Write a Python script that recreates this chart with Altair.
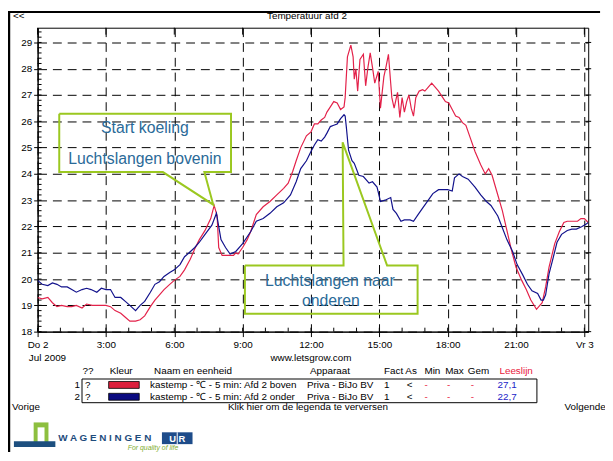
import altair as alt
import pandas as pd

# ---------------- data ----------------
red_h = [0.0, 0.2, 0.45, 0.65, 0.85, 1.05, 1.3, 1.5, 1.7, 1.95, 2.15, 2.4, 2.7, 3.0, 3.2, 3.4, 3.65, 3.85,
         4.05, 4.3, 4.5, 4.7, 4.95, 5.15, 5.35, 5.55, 5.8, 6.0, 6.25, 6.45, 6.7, 6.9, 7.1, 7.35, 7.6, 7.75,
         7.88, 7.95, 8.1, 8.4, 8.6, 8.7, 8.8, 9.0, 9.2, 9.35, 9.6, 9.9, 10.2, 10.5, 10.8, 11.0, 11.2, 11.35,
         11.55, 11.8, 12.0, 12.15, 12.3, 12.45, 12.6, 12.7, 12.85, 13.0, 13.15, 13.3, 13.45, 13.5, 13.6,
         13.75, 13.85, 13.9, 13.97, 14.05, 14.15, 14.3, 14.4, 14.5, 14.6, 14.7, 14.8, 14.95, 15.05, 15.2,
         15.3, 15.4, 15.5, 15.55, 15.65, 15.8, 15.9, 16.0, 16.1, 16.2, 16.3, 16.4, 16.5, 16.6, 16.75, 16.9,
         17.0, 17.15, 17.3, 17.45, 17.6, 17.75, 17.9, 18.05, 18.2, 18.35, 18.5, 18.65, 18.8, 19.0, 19.2,
         19.45, 19.65, 19.8, 19.95, 20.15, 20.4, 20.6, 20.8, 21.0, 21.25, 21.45, 21.65, 21.9, 22.0, 22.15,
         22.3, 22.45, 22.7, 22.9, 23.1, 23.25, 23.45, 23.7, 23.85, 24.0, 24.17]
red_t = [19.3, 19.25, 19.3, 19.1, 18.95, 19.0, 18.95, 18.95, 19.0, 18.9, 19.05, 19.0, 19.0, 19.0, 18.95,
         18.8, 18.7, 18.55, 18.4, 18.4, 18.45, 18.6, 18.95, 19.2, 19.4, 19.6, 19.8, 19.95, 20.1, 20.35,
         20.75, 21.15, 21.5, 21.85, 22.3, 22.8, 22.4, 21.2, 20.9, 20.9, 20.9, 21.0, 20.95, 21.2, 21.5, 21.8,
         22.45, 22.75, 22.95, 23.2, 23.45, 23.65, 24.1, 24.5, 25.0, 25.45, 25.6, 25.9, 25.9, 26.05, 26.15,
         26.35, 26.55, 26.75, 26.7, 26.45, 26.55, 26.9, 28.45, 28.9, 28.45, 27.6, 28.0, 27.15, 28.35, 28.55,
         27.35, 28.05, 28.6, 28.05, 27.45, 27.9, 26.5, 27.7, 28.1, 28.55, 27.45, 26.9, 26.5, 27.1, 26.15,
         26.9, 26.35, 26.75, 27.0, 26.5, 26.2, 26.9, 27.15, 27.2, 27.15, 27.3, 27.45, 27.3, 27.15, 26.95,
         26.75, 26.7, 26.45, 26.2, 26.15, 25.95, 25.85, 25.35, 24.85, 24.35, 24.0, 24.2, 23.95, 23.35, 22.6,
         21.85, 21.1, 20.45, 19.95, 19.6, 19.2, 18.85, 18.95, 19.1, 19.7, 20.45, 21.35, 21.8, 22.15, 22.2,
         22.2, 22.2, 22.3, 22.3, 22.15]

blue_h = [0.0, 0.2, 0.45, 0.65, 0.85, 1.05, 1.3, 1.5, 1.7, 1.95, 2.15, 2.35, 2.6, 2.8, 3.0, 3.2, 3.4, 3.65,
          3.85, 4.05, 4.3, 4.5, 4.7, 4.95, 5.15, 5.35, 5.55, 5.8, 6.0, 6.25, 6.45, 6.65, 6.9, 7.1, 7.35, 7.65,
          7.85, 8.05, 8.25, 8.45, 8.7, 9.0, 9.35, 9.6, 9.9, 10.2, 10.5, 10.8, 11.1, 11.35, 11.55, 11.8, 12.0,
          12.15, 12.3, 12.45, 12.6, 12.7, 12.85, 13.0, 13.15, 13.3, 13.45, 13.5, 13.55, 13.65, 13.8, 13.9,
          14.1, 14.3, 14.55, 14.7, 14.9, 15.05, 15.25, 15.5, 15.6, 15.75, 15.95, 16.1, 16.35, 16.5, 16.7,
          16.9, 17.15, 17.35, 17.6, 17.8, 18.0, 18.2, 18.3, 18.5, 18.65, 18.9, 19.2, 19.45, 19.7, 19.9, 20.2,
          20.4, 20.6, 20.85, 21.05, 21.3, 21.5, 21.7, 21.95, 22.1, 22.2, 22.3, 22.45, 22.6, 22.8, 23.0, 23.25,
          23.45, 23.65, 23.9, 24.1, 24.17]
blue_t = [19.95, 19.8, 19.75, 19.85, 19.8, 19.7, 19.7, 19.6, 19.5, 19.6, 19.65, 19.6, 19.5, 19.65, 19.6,
          19.6, 19.3, 19.3, 19.15, 19.0, 18.8, 19.0, 19.15, 19.5, 19.8, 19.9, 20.1, 20.25, 20.35, 20.55,
          20.85, 21.0, 21.2, 21.4, 21.7, 22.05, 22.5, 21.5, 21.2, 20.95, 21.05, 21.35, 21.8, 22.2, 22.3, 22.5,
          22.75, 22.9, 23.2, 23.7, 24.2, 24.5, 24.85, 25.1, 25.3, 25.25, 25.4, 25.55, 25.8, 25.85, 25.9, 26.1,
          26.25, 26.2, 25.8, 24.9, 24.5, 24.4, 23.95, 23.9, 23.65, 23.7, 23.5, 22.95, 23.0, 23.1, 22.65, 22.5,
          22.2, 22.25, 22.25, 22.2, 22.45, 22.7, 23.0, 23.25, 23.4, 23.4, 23.4, 23.35, 23.85, 24.0, 23.9,
          23.8, 23.5, 23.2, 22.95, 22.8, 22.4, 21.95, 21.5, 21.05, 20.55, 20.15, 19.8, 19.55, 19.45, 19.2,
          19.2, 19.4, 20.2, 20.7, 21.4, 21.7, 21.85, 21.9, 21.9, 22.0, 22.1, 22.15]

series_keys = ["boven", "onder"]
series_names = ["kastemp - \u2103 - 5 min: Afd 2 boven", "kastemp - \u2103 - 5 min: Afd 2 onder"]
series_colors = ["#e3224a", "#12128c"]
swatch_colors = ["#dc1e3c", "#0a0a80"]
leeslijn_values = ["27,1", "22,7"]

x_ticks = [0, 3, 6, 9, 12, 15, 18, 21, 24]
x_labels = ["Do 2", "3:00", "6:00", "9:00", "12:00", "15:00", "18:00", "21:00", "Vr 3"]
y_ticks = list(range(18, 30))
x_minor = list(range(0, 25))
y_minor = [round(18 + 0.2 * i, 1) for i in range(58)]

# callout boxes (in data coordinates: hours, degrees)
box1_h = [0.95, 8.49, 8.49, 7.32, 7.71, 5.5, 0.95, 0.95]
box1_t = [26.29, 26.29, 24.07, 24.07, 22.83, 24.07, 24.07, 26.29]
box2_h = [9.1, 13.43, 13.39, 15.34, 16.68, 16.68, 9.1, 9.1]
box2_t = [20.52, 20.52, 25.2, 20.52, 20.52, 18.68, 18.68, 20.52]
ann_text = ["Start koeling", "Luchtslangen bovenin", "Luchtslangen naar", "onderen"]
ann_h = [4.71, 4.71, 12.83, 12.87]
ann_t = [25.73, 24.56, 19.92, 19.17]

# ---------------- scales / axes ----------------
W, H = 558, 308
FONT = "Liberation Sans"
GREEN = "#9bc820"

xscale = alt.Scale(domain=[0, 24.17], nice=False, zero=False)
yscale = alt.Scale(domain=[18, 29.56], nice=False, zero=False)
label_expr = " : ".join(f"datum.value == {v} ? '{l}'" for v, l in zip(x_ticks, x_labels)) + " : ''"
xaxis = alt.Axis(values=x_ticks, labelExpr=label_expr, title=None, grid=True, gridDash=[9, 6],
                 gridColor="#000", gridWidth=1, tickSize=5, tickColor="black", domainColor="black",
                 labelFont=FONT, labelFontSize=10, labelColor="black", labelPadding=3,
                 labelFlush=False, labelOverlap=False)
yaxis = alt.Axis(values=y_ticks, title=None, grid=True, gridDash=[9, 6], gridColor="#000", gridWidth=1,
                 tickSize=4, tickColor="black", domainColor="black", labelFont=FONT, labelFontSize=10,
                 labelColor="black", labelPadding=2, labelFlush=False, labelOverlap=False)
X = alt.X("h:Q", scale=xscale, axis=xaxis)
Y = alt.Y("T:Q", scale=yscale, axis=yaxis)

df = pd.concat([
    pd.DataFrame({"h": red_h, "T": red_t, "s": series_keys[0]}),
    pd.DataFrame({"h": blue_h, "T": blue_t, "s": series_keys[1]}),
])
lines = alt.Chart(df).mark_line(strokeWidth=1.2, clip=True).encode(
    x=X, y=Y,
    color=alt.Color("s:N", scale=alt.Scale(domain=series_keys, range=series_colors), legend=None),
)

# minor / extra ticks
ymin_df = pd.DataFrame({"T": y_minor})
ymin = alt.Chart(ymin_df).mark_rule(color="black", strokeWidth=1).encode(
    y=Y, x=alt.value(0), x2=alt.value(4))
xmin_df = pd.DataFrame({"h": x_minor})
xmin = alt.Chart(xmin_df).mark_rule(color="black", strokeWidth=1).encode(
    x=X, y=alt.value(H - 4), y2=alt.value(H))
xtop_df = pd.DataFrame({"h": x_ticks})
xtop = alt.Chart(xtop_df).mark_rule(color="black", strokeWidth=1).encode(
    x=X, y=alt.value(0), y2=alt.value(7))
yright_df = pd.DataFrame({"T": y_ticks})
yright = alt.Chart(yright_df).mark_rule(color="black", strokeWidth=1).encode(
    y=Y, x=alt.value(W - 3), x2=alt.value(W + 3))

# callouts
b1 = pd.DataFrame({"h": box1_h, "T": box1_t, "i": list(range(len(box1_h)))})
b2 = pd.DataFrame({"h": box2_h, "T": box2_t, "i": list(range(len(box2_h)))})
box1 = alt.Chart(b1).mark_line(color=GREEN, strokeWidth=2).encode(x=X, y=Y, order="i:Q")
box2 = alt.Chart(b2).mark_line(color=GREEN, strokeWidth=2).encode(x=X, y=Y, order="i:Q")
ann_df = pd.DataFrame({"h": ann_h, "T": ann_t, "txt": ann_text})
ann = alt.Chart(ann_df).mark_text(font="Liberation Sans Narrow, Liberation Sans", fontSize=16,
                                  color="#2a6a98", align="center", baseline="middle").encode(
    x=X, y=Y, text="txt:N")

# ---------------- page chrome (pixel positions relative to plot origin) ----------------
def txt(x, y, s, color="black", size=10, align="left", weight="normal", style="normal"):
    return alt.Chart(pd.DataFrame({"a": [0]})).mark_text(
        font=FONT, fontSize=size, color=color, align=align, baseline="middle",
        fontWeight=weight, fontStyle=style).encode(
        x=alt.value(x), y=alt.value(y), text=alt.value(s))

def rect(x, x2, y, y2, fill, stroke=None, sw=1, op=1):
    kw = dict(fill=fill, fillOpacity=op)
    if stroke:
        kw.update(stroke=stroke, strokeWidth=sw)
    return alt.Chart(pd.DataFrame({"a": [0]})).mark_rect(**kw).encode(
        x=alt.value(x), x2=alt.value(x2), y=alt.value(y), y2=alt.value(y2))

def rule(x, x2, y, y2, color="black", sw=1):
    return alt.Chart(pd.DataFrame({"a": [0]})).mark_rule(color=color, strokeWidth=sw).encode(
        x=alt.value(x), x2=alt.value(x2), y=alt.value(y), y2=alt.value(y2))

RED_T = "#e8203c"
BLUE_T = "#2323c8"
chrome = [
    rule(-29, -29, -17, 430, sw=2.5),
    rule(-30, 570, -16, -16, sw=2),
    txt(-25, -12, "<<"),
    txt(273, -12, "Temperatuur afd 2", align="center"),
    txt(10, 335, "Jul 2009", align="center"),
    txt(277, 335, "www.letsgrow.com", align="center"),
    txt(51, 348, "??", align="center"),
    txt(73, 348, "Kleur"),
    txt(118, 348, "Naam en eenheid"),
    txt(276, 348, "Apparaat"),
    txt(351, 348, "Fact As"),
    txt(392, 348, "Min"),
    txt(413, 348, "Max"),
    txt(436, 348, "Gem"),
    txt(468, 348, "Leeslijn", color=RED_T),
    rect(45, 506, 356, 380, "white", stroke="black", sw=1, op=0),
    txt(-26, 384, "Vorige"),
    txt(274, 384, "Klik hier om de legenda te verversen", align="center"),
    txt(534, 384, "Volgende"),
]
for k, (yy, name, sc, val) in enumerate(zip([362, 374], series_names, swatch_colors, leeslijn_values)):
    chrome += [
        txt(43, yy, str(k + 1), align="right"),
        txt(48, yy, "?"),
        rect(72, 103, yy - 3.5, yy + 3.5, sc, stroke="black", sw=0.8),
        txt(114, yy, name),
        txt(273, yy, "Priva - BiJo BV"),
        txt(351, yy, "1"),
        txt(374, yy, "<"),
        txt(392, yy, "-", color=RED_T),
        txt(415, yy, "-", color=RED_T),
        txt(439, yy, "-", color=RED_T),
        txt(466, yy, val, color=BLUE_T),
    ]

# logo
chrome += [
    rect(-4, 11, 400, 420, "#8dbf3f"),
    rect(0, 7, 405, 420, "white"),
    rect(-24, 18, 419, 425, "#1d4f7f"),
    txt(21, 416, "W A G E N I N G E N", color="#1e4c7c", size=10, weight="bold"),
    rect(126, 157, 410, 422, "#1e4c8a"),
    rule(141.5, 141.5, 410, 422, color="white", sw=1),
    txt(141.5, 416.5, "U  R", color="white", size=9.5, weight="bold", align="center"),
    txt(117, 426, "For quality of life", color="#7fae2e", size=7, style="italic", align="center"),
]

chart = alt.layer(lines, ymin, xmin, xtop, yright, box1, box2, ann, *chrome).properties(
    width=W, height=H,
    padding={"left": 30, "top": 17, "right": 17, "bottom": 120},
    autosize=alt.AutoSizeParams(type="none"),
    background="white",
).configure_view(stroke="black", strokeWidth=1)

chart.save("out.html", embed_options={"renderer": "svg", "actions": False})
